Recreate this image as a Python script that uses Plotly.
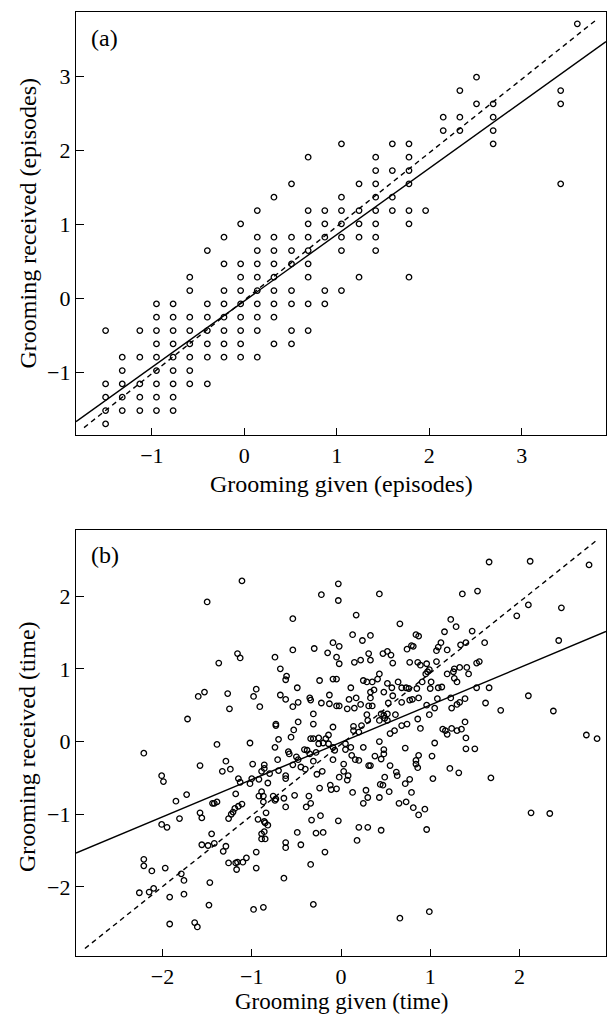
import numpy as np
import plotly.graph_objects as go

# ---------------- Panel (a): grooming episodes (z-scores) ----------------
a_row_y = [-1.69, -1.51, -1.33, -1.15, -0.97, -0.79, -0.61, -0.43, -0.25, -0.07,
           0.11, 0.29, 0.47, 0.65, 0.83, 1.01, 1.19, 1.37, 1.55, 1.73,
           1.91, 2.09, 2.27, 2.45, 2.63, 2.81, 2.99, 3.71]
a_row_x = [
    [-1.50],
    [-1.50, -1.32, -1.13, -0.95, -0.77],
    [-1.50, -1.32, -1.13, -0.95, -0.77],
    [-1.50, -1.32, -1.13, -0.95, -0.77, -0.59, -0.40],
    [-1.32, -0.95, -0.77, -0.59],
    [-1.32, -1.13, -0.95, -0.77, -0.59, -0.40, -0.22, -0.04, 0.14],
    [-0.95, -0.77, -0.59, -0.40, -0.22, -0.04, 0.32, 0.51],
    [-1.50, -1.13, -0.95, -0.77, -0.59, -0.40, -0.22, -0.04, 0.14, 0.51, 0.69],
    [-0.95, -0.77, -0.59, -0.40, -0.22, -0.04, 0.14, 0.32],
    [-0.95, -0.77, -0.40, -0.22, -0.04, 0.14, 0.32, 0.51, 0.69, 0.87],
    [-0.59, -0.22, -0.04, 0.14, 0.32, 0.51, 0.87, 1.05],
    [-0.59, -0.04, 0.14, 0.32, 0.69, 1.24, 1.78],
    [-0.22, -0.04, 0.14, 0.32, 0.51, 0.69],
    [-0.40, 0.14, 0.32, 0.51, 0.69, 1.05, 1.42],
    [-0.22, 0.14, 0.32, 0.51, 0.69, 0.87, 1.05, 1.24, 1.42],
    [-0.04, 0.69, 0.87, 1.05, 1.24, 1.42, 1.78],
    [0.14, 0.69, 0.87, 1.05, 1.24, 1.42, 1.60, 1.78, 1.96],
    [0.32, 1.05, 1.42, 1.60],
    [0.51, 1.24, 1.42, 1.78, 3.42],
    [1.42, 1.60, 1.78],
    [0.69, 1.42, 1.78],
    [1.05, 1.60, 1.78, 2.69],
    [2.15, 2.33, 2.69],
    [2.15, 2.33, 2.69],
    [2.51, 2.69, 3.42],
    [2.33, 3.42],
    [2.51],
    [3.60],
]
a_x = [x for row in a_row_x for x in row]
a_y = [y for y, row in zip(a_row_y, a_row_x) for _ in row]

# regression (solid) and identity (dashed) lines, panel (a)
a_fit = {"slope": 0.895, "intercept": -0.03}
a_ref = {"slope": 0.994, "intercept": -0.018, "x0": -1.733, "x1": 3.818}

# ---------------- Panel (b): grooming time (z-scores) ----------------
b_x = [
    # upper left
    -1.11, -1.50, -0.22, -0.03, -0.03, -0.54, -0.09, -0.02, -0.30, -0.54, -0.15, -0.05, -0.02,
    -0.74, -1.16, -1.13, -1.37, -0.68, -0.61, -0.62, -0.49, -0.24, -0.09, -0.05, -0.95, -0.98,
    -1.27, -1.53, -1.60, -1.25, -0.91, -0.68, -0.62, -0.54, -0.48, -0.35, -0.34, -0.22, -0.13,
    -0.13, -0.05, -0.02, -1.72, -0.31, -0.73, -0.73, -0.48, -0.31, -0.09, -0.53, -0.56, -0.70,
    -0.34, -0.31, -0.25, -0.17, -0.14,
    # lower left
    -2.21, -1.39, -1.02, -0.74, -0.59, -0.58, -0.41, -0.38, -0.25, -0.20, -0.14, -0.09, -0.07,
    -0.28, -0.35, -0.50, -0.48, -0.54, -0.45, -0.40, -0.31, -0.21, -0.27, -0.09, -0.02, -0.12,
    -0.05, -0.11, -0.24, -0.71, -0.70, -0.62, -0.62, -0.80, -0.86, -0.86, -0.89, -0.82, -0.92,
    -1.00, -1.02, -0.99, -0.89, -0.87, -0.92, -0.76, -0.73, -0.74, -0.64, -0.62, -0.52, -0.36,
    -0.34, -0.39, -0.23, -0.33, -0.03, -0.28, -0.20, -0.18, -0.49, -0.45, -0.62, -0.62, -0.34,
    -0.64, -0.31, -0.87, -0.98, -0.95, -0.95, -1.06, -1.10, -1.16, -1.18, -1.17, -1.26, -0.89,
    -0.89, -0.85, -0.86, -0.85, -0.82, -0.93, -0.86, -0.84, -0.87, -1.26, -1.23, -1.21, -1.19,
    -1.15, -1.11, -1.18, -1.15, -1.13, -1.29, -1.24, -1.33, -1.58, -1.39, -1.42, -1.44, -1.58,
    -1.56, -1.73, -1.85, -1.81, -2.01, -1.95, -2.01, -1.99, -1.45, -1.56, -1.49, -1.42, -1.29,
    -1.32, -2.21, -2.21, -2.12, -1.97, -1.79, -1.76, -1.47, -2.26, -2.15, -2.10, -1.92, -1.76,
    -1.48, -1.92, -1.64, -1.61,
    # upper right
    1.66, 2.12, 2.78, 0.43, 1.36, 1.53, 2.10, 2.47, 1.97, 0.17, 0.66, 1.23, 1.29, 1.16, 1.47,
    0.13, 0.24, 0.33, 0.84, 0.87, 1.61, 1.40, 1.34, 1.12, 1.09, 1.07, 1.19, 2.44, 0.79, 0.74,
    0.81, 0.52, 0.47, 0.31, 0.56, 0.33, 0.22, 0.15, 0.58, 0.77, 0.86, 0.89, 0.96, 1.07, 0.99,
    0.97, 0.95, 1.52, 1.55, 1.27, 1.33, 1.41, 1.43, 1.19, 1.26, 1.27, 1.30, 0.43, 0.25, 0.29,
    0.35, 0.41, 0.52, 0.57, 0.64, 0.68, 0.73, 0.76, 0.85, 0.91, 1.01, 1.00, 1.09, 1.13, 1.52,
    1.66, 0.11, 0.37, 0.33, 0.48, 0.58, 0.33, 0.68, 0.77, 0.80, 0.87, 1.08, 1.23, 1.33, 1.39,
    1.62, 2.10, 1.79, 2.38, 0.17, 0.09, 0.07, 0.15, 0.22, 0.31, 0.35, 0.53, 0.96, 1.05, 1.24,
    1.30, 0.99, 0.29, 0.30, 0.45, 0.48, 0.49, 0.52, 0.61, 0.43, 0.52, 0.86, 1.39, 0.68, 0.74,
    0.89, 1.14, 1.17, 1.24, 1.30, 1.35, 1.19, 1.40, 0.14, 0.23, 0.14, 0.20, 0.55, 0.60, 2.75,
    2.87,
    # lower right
    1.40, 1.50, 1.05, 0.43, 0.05, 0.11, 0.05, 0.25, 0.48, 0.48, 0.38, 0.45, 0.72, 0.87, 0.84,
    0.84, 0.86, 1.02, 0.12, 0.16, 0.20, 0.31, 0.33, 0.55, 0.03, 0.03, 0.08, 0.07, 0.62, 0.63,
    0.49, 0.44, 0.47, 0.72, 0.77, 1.22, 1.32, 1.03, 1.68, 0.13, 0.28, 0.30, 0.25, 0.54, 0.43,
    0.79, 0.65, 0.73, 0.81, 0.87, 0.94, 0.20, 0.30, 0.45, 0.18, 0.96, 2.13, 2.34, 0.66, 0.99,
]
b_y = [
    # upper left
    2.21, 1.92, 2.02, 2.17, 1.94, 1.69, 1.36, 1.31, 1.28, 1.26, 1.22, 1.16, 1.07,
    1.16, 1.21, 1.15, 1.08, 1.00, 0.90, 0.85, 0.74, 0.84, 0.86, 0.86, 0.72, 0.62,
    0.66, 0.68, 0.62, 0.45, 0.48, 0.64, 0.58, 0.48, 0.54, 0.60, 0.57, 0.53, 0.64,
    0.52, 0.49, 0.49, 0.31, 0.38, 0.24, 0.22, 0.27, 0.24, 0.20, 0.16, 0.06, 0.03,
    0.04, 0.04, 0.05, 0.04, 0.09,
    # lower left
    -0.16, -0.04, -0.02, -0.08, -0.14, -0.17, -0.11, -0.12, -0.03, -0.02, -0.03, -0.08, -0.12,
    -0.15, -0.17, -0.21, -0.25, -0.32, -0.35, -0.38, -0.27, -0.41, -0.45, -0.25, -0.49, -0.60,
    -0.65, -0.66, -0.64, -0.25, -0.40, -0.47, -0.51, -0.44, -0.32, -0.37, -0.41, -0.57, -0.52,
    -0.51, -0.58, -0.31, -0.69, -0.75, -0.75, -0.75, -0.79, -0.81, -0.78, -0.90, -0.74, -0.75,
    -0.85, -0.90, -1.02, -1.08, -1.09, -1.26, -1.25, -1.52, -1.25, -1.42, -1.39, -1.46, -1.69,
    -1.88, -2.24, -2.28, -2.31, -1.74, -1.52, -1.60, -1.66, -1.66, -1.67, -1.76, -1.67, -1.34,
    -1.27, -1.34, -1.24, -1.12, -1.15, -1.07, -1.10, -0.98, -0.83, -1.06, -1.00, -0.97, -0.92,
    -0.89, -0.86, -0.72, -0.51, -0.56, -0.27, -0.38, -0.41, -0.33, -0.83, -0.85, -0.85, -0.98,
    -1.05, -0.73, -0.82, -1.06, -1.14, -1.18, -0.47, -0.55, -1.27, -1.42, -1.43, -1.40, -1.44,
    -1.51, -1.62, -1.71, -1.78, -1.74, -1.82, -1.91, -1.94, -2.08, -2.07, -2.02, -2.14, -2.10,
    -2.25, -2.51, -2.49, -2.55,
    # upper right
    2.47, 2.48, 2.43, 2.03, 2.03, 2.07, 1.88, 1.84, 1.73, 1.74, 1.62, 1.68, 1.58, 1.51, 1.52,
    1.47, 1.39, 1.46, 1.47, 1.45, 1.36, 1.36, 1.33, 1.36, 1.30, 1.25, 1.26, 1.39, 1.32, 1.27,
    1.31, 1.24, 1.21, 1.21, 1.19, 1.12, 1.12, 1.09, 1.08, 1.09, 1.09, 1.05, 1.07, 1.10, 0.99,
    0.96, 0.93, 1.08, 1.10, 1.00, 1.02, 1.02, 0.93, 0.93, 0.96, 0.87, 0.82, 0.93, 0.84, 0.82,
    0.82, 0.86, 0.80, 0.74, 0.82, 0.74, 0.74, 0.73, 0.73, 0.82, 0.82, 0.73, 0.74, 0.75, 0.74,
    0.74, 0.74, 0.71, 0.68, 0.68, 0.63, 0.60, 0.54, 0.57, 0.58, 0.60, 0.59, 0.60, 0.54, 0.59,
    0.53, 0.63, 0.43, 0.42, 0.60, 0.58, 0.45, 0.46, 0.51, 0.49, 0.49, 0.53, 0.50, 0.46, 0.46,
    0.51, 0.37, 0.37, 0.29, 0.38, 0.36, 0.32, 0.38, 0.37, 0.29, 0.29, 0.31, 0.27, 0.22, 0.24,
    0.18, 0.17, 0.15, 0.18, 0.15, 0.17, 0.10, 0.05, 0.21, 0.22, 0.15, 0.13, 0.11, 0.15, 0.09,
    0.04,
    # lower right
    -0.10, -0.10, -0.02, 0.00, -0.03, -0.08, -0.11, -0.08, -0.11, -0.17, -0.20, -0.24, -0.09, -0.19, -0.26,
    -0.31, -0.36, -0.20, -0.19, -0.25, -0.26, -0.33, -0.33, -0.33, -0.31, -0.41, -0.47, -0.53, -0.42, -0.47,
    -0.49, -0.59, -0.60, -0.58, -0.52, -0.37, -0.43, -0.51, -0.50, -0.70, -0.67, -0.77, -0.85, -0.69, -0.77,
    -0.70, -0.85, -0.83, -0.91, -1.01, -0.93, -1.18, -1.18, -1.22, -1.36, -1.21, -0.98, -0.99, -2.43, -2.34,
]

b_fit = {"slope": 0.513, "intercept": -0.01}
b_ref = {"slope": 0.979, "intercept": -0.037, "x0": -2.87, "x1": 2.886}

# ---------------- axes ----------------
a_xrange = [-1.82, 3.91]
a_yrange = [-1.84, 3.87]
b_xrange = [-2.97, 2.97]
b_yrange = [-2.95, 2.91]
a_ticks = [-1, 0, 1, 2, 3]
b_ticks = [-2, -1, 0, 1, 2]

W, H = 607, 1016
ML, MR, MT, MB = 76, 1, 12, 60
PW, PH = W - ML - MR, H - MT - MB
FONT = "Liberation Serif"


def px2paper(px, py):
    return (px - ML) / PW, 1 - (py - MT) / PH


fig = go.Figure()

marker = dict(symbol="circle-open", size=5.5, color="black", line=dict(width=1.3, color="black"))

fig.add_trace(go.Scatter(x=a_x, y=a_y, mode="markers", marker=marker,
                         xaxis="x", yaxis="y", showlegend=False, hoverinfo="skip"))
xa = np.array(a_xrange)
fig.add_trace(go.Scatter(x=xa, y=a_fit["slope"] * xa + a_fit["intercept"], mode="lines",
                         line=dict(color="black", width=1.4), xaxis="x", yaxis="y",
                         showlegend=False, hoverinfo="skip"))
xr = np.array([a_ref["x0"], a_ref["x1"]])
fig.add_trace(go.Scatter(x=xr, y=a_ref["slope"] * xr + a_ref["intercept"], mode="lines",
                         line=dict(color="black", width=1.4, dash="5px,4px"), xaxis="x", yaxis="y",
                         showlegend=False, hoverinfo="skip"))

fig.add_trace(go.Scatter(x=b_x, y=b_y, mode="markers", marker=marker,
                         xaxis="x2", yaxis="y2", showlegend=False, hoverinfo="skip"))
xb = np.array(b_xrange)
fig.add_trace(go.Scatter(x=xb, y=b_fit["slope"] * xb + b_fit["intercept"], mode="lines",
                         line=dict(color="black", width=1.4), xaxis="x2", yaxis="y2",
                         showlegend=False, hoverinfo="skip"))
xr2 = np.array([b_ref["x0"], b_ref["x1"]])
fig.add_trace(go.Scatter(x=xr2, y=b_ref["slope"] * xr2 + b_ref["intercept"], mode="lines",
                         line=dict(color="black", width=1.4, dash="5px,4px"), xaxis="x2", yaxis="y2",
                         showlegend=False, hoverinfo="skip"))

axis_common = dict(showline=True, mirror=True, linecolor="black", linewidth=1.4,
                   showgrid=False, zeroline=False, ticks="inside", tickwidth=1.3,
                   tickcolor="black", tickfont=dict(family=FONT, size=22, color="black"))

a_bottom = 1 - (435 - MT) / PH
b_top = 1 - (530 - MT) / PH

fig.update_layout(
    width=W, height=H,
    margin=dict(l=ML, r=MR, t=MT, b=MB),
    paper_bgcolor="white", plot_bgcolor="white",
    xaxis=dict(range=a_xrange, tickvals=a_ticks, ticklen=7, anchor="y", domain=[0, 1], **axis_common),
    yaxis=dict(range=a_yrange, tickvals=a_ticks, ticklen=8, anchor="x", domain=[a_bottom, 1], **axis_common),
    xaxis2=dict(range=b_xrange, tickvals=b_ticks, ticklen=7, anchor="y2", domain=[0, 1], **axis_common),
    yaxis2=dict(range=b_yrange, tickvals=b_ticks, ticklen=8, anchor="x2", domain=[0, b_top], **axis_common),
)

annots = [
    ("(a)", 104, 38, 0, 24),
    ("(b)", 104.5, 555, 0, 24),
    ("Grooming given (episodes)", 341, 484, 0, 24),
    ("Grooming given (time)", 341, 1001.5, 0, 23),
    ("Grooming received (episodes)", 27, 223.5, -90, 24),
    ("Grooming received (time)", 27, 747, -90, 24),
]
for text, px, py, ang, size in annots:
    xp, yp = px2paper(px, py)
    fig.add_annotation(text=text, x=xp, y=yp, xref="paper", yref="paper",
                       xanchor="center", yanchor="middle", showarrow=False, textangle=ang,
                       font=dict(family=FONT, size=size, color="black"))

fig.write_html("out.html")
